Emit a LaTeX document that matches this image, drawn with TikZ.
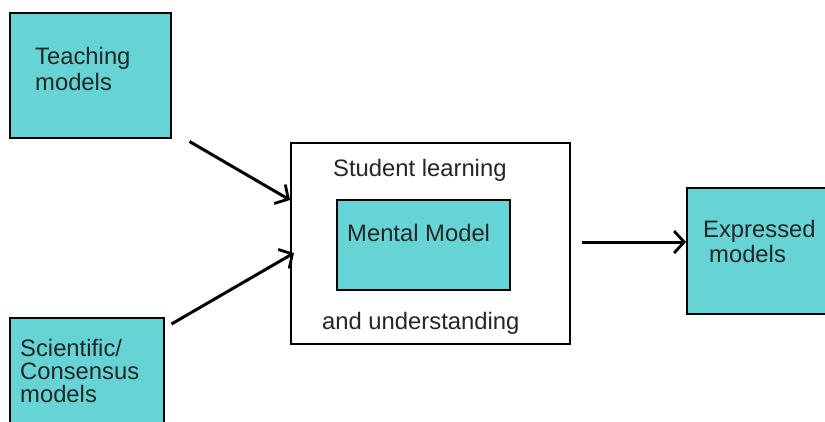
\documentclass[tikz,border=0pt]{standalone}
\usepackage{fontspec}
\setmainfont{Liberation Sans}
\usetikzlibrary{arrows.meta}
\definecolor{boxcyan}{RGB}{102,212,212}
\begin{document}
\begin{tikzpicture}[x=1pt,y=-1pt,
  cbox/.style={draw=black,line width=1.5pt,fill=boxcyan,anchor=north west,inner sep=0pt},
  wbox/.style={draw=black,line width=1.5pt,fill=white,anchor=north west,inner sep=0pt},
  lbl/.style={anchor=base west,inner sep=0pt,font=\fontsize{23.8}{25}\selectfont,text=black!85},
  flow/.style={line width=3pt,-{Straight Barb[length=10pt,width=22pt,line width=2.8pt]}}]
\useasboundingbox (0,0) rectangle (825,421);
% boxes
\node[cbox,minimum width=161pt,minimum height=125pt] (teach) at (9,12) {};
\node[cbox,minimum width=154pt,minimum height=125pt] (sci) at (9,317) {};
\node[wbox,minimum width=279pt,minimum height=201pt] (stud) at (290,142) {};
\node[cbox,minimum width=173pt,minimum height=90pt] (mental) at (336,199) {};
\node[cbox,minimum width=140pt,minimum height=126pt] (expr) at (686,187) {};
% texts
\node[lbl] (t1) at (35,64.5) {Teaching};
\node[lbl] (t2) at (35,90) {models};
\node[lbl] (s1) at (20,356) {Scientific/};
\node[lbl] (s2) at (20,379) {Consensus};
\node[lbl] (s3) at (20,402) {models};
\node[lbl] (u1) at (333,176.5) {Student learning};
\node[lbl] (u2) at (322,329.5) {and understanding};
\node[lbl] (m1) at (347,241.5) {Mental Model};
\node[lbl] (e1) at (703,237) {Expressed};
\node[lbl] (e2) at (709,262) {models};
% connectors
\draw[flow] ([shift={(18,3)}]teach.south east) -- ([shift={(0,58)}]stud.north west);
\draw[flow] ([shift={(7,7)}]sci.north east) -- ([shift={(4,111)}]stud.north west);
\draw[flow] ([shift={(11,100)}]stud.north east) -- ([shift={(0,55)}]expr.north west);
\end{tikzpicture}
\end{document}
